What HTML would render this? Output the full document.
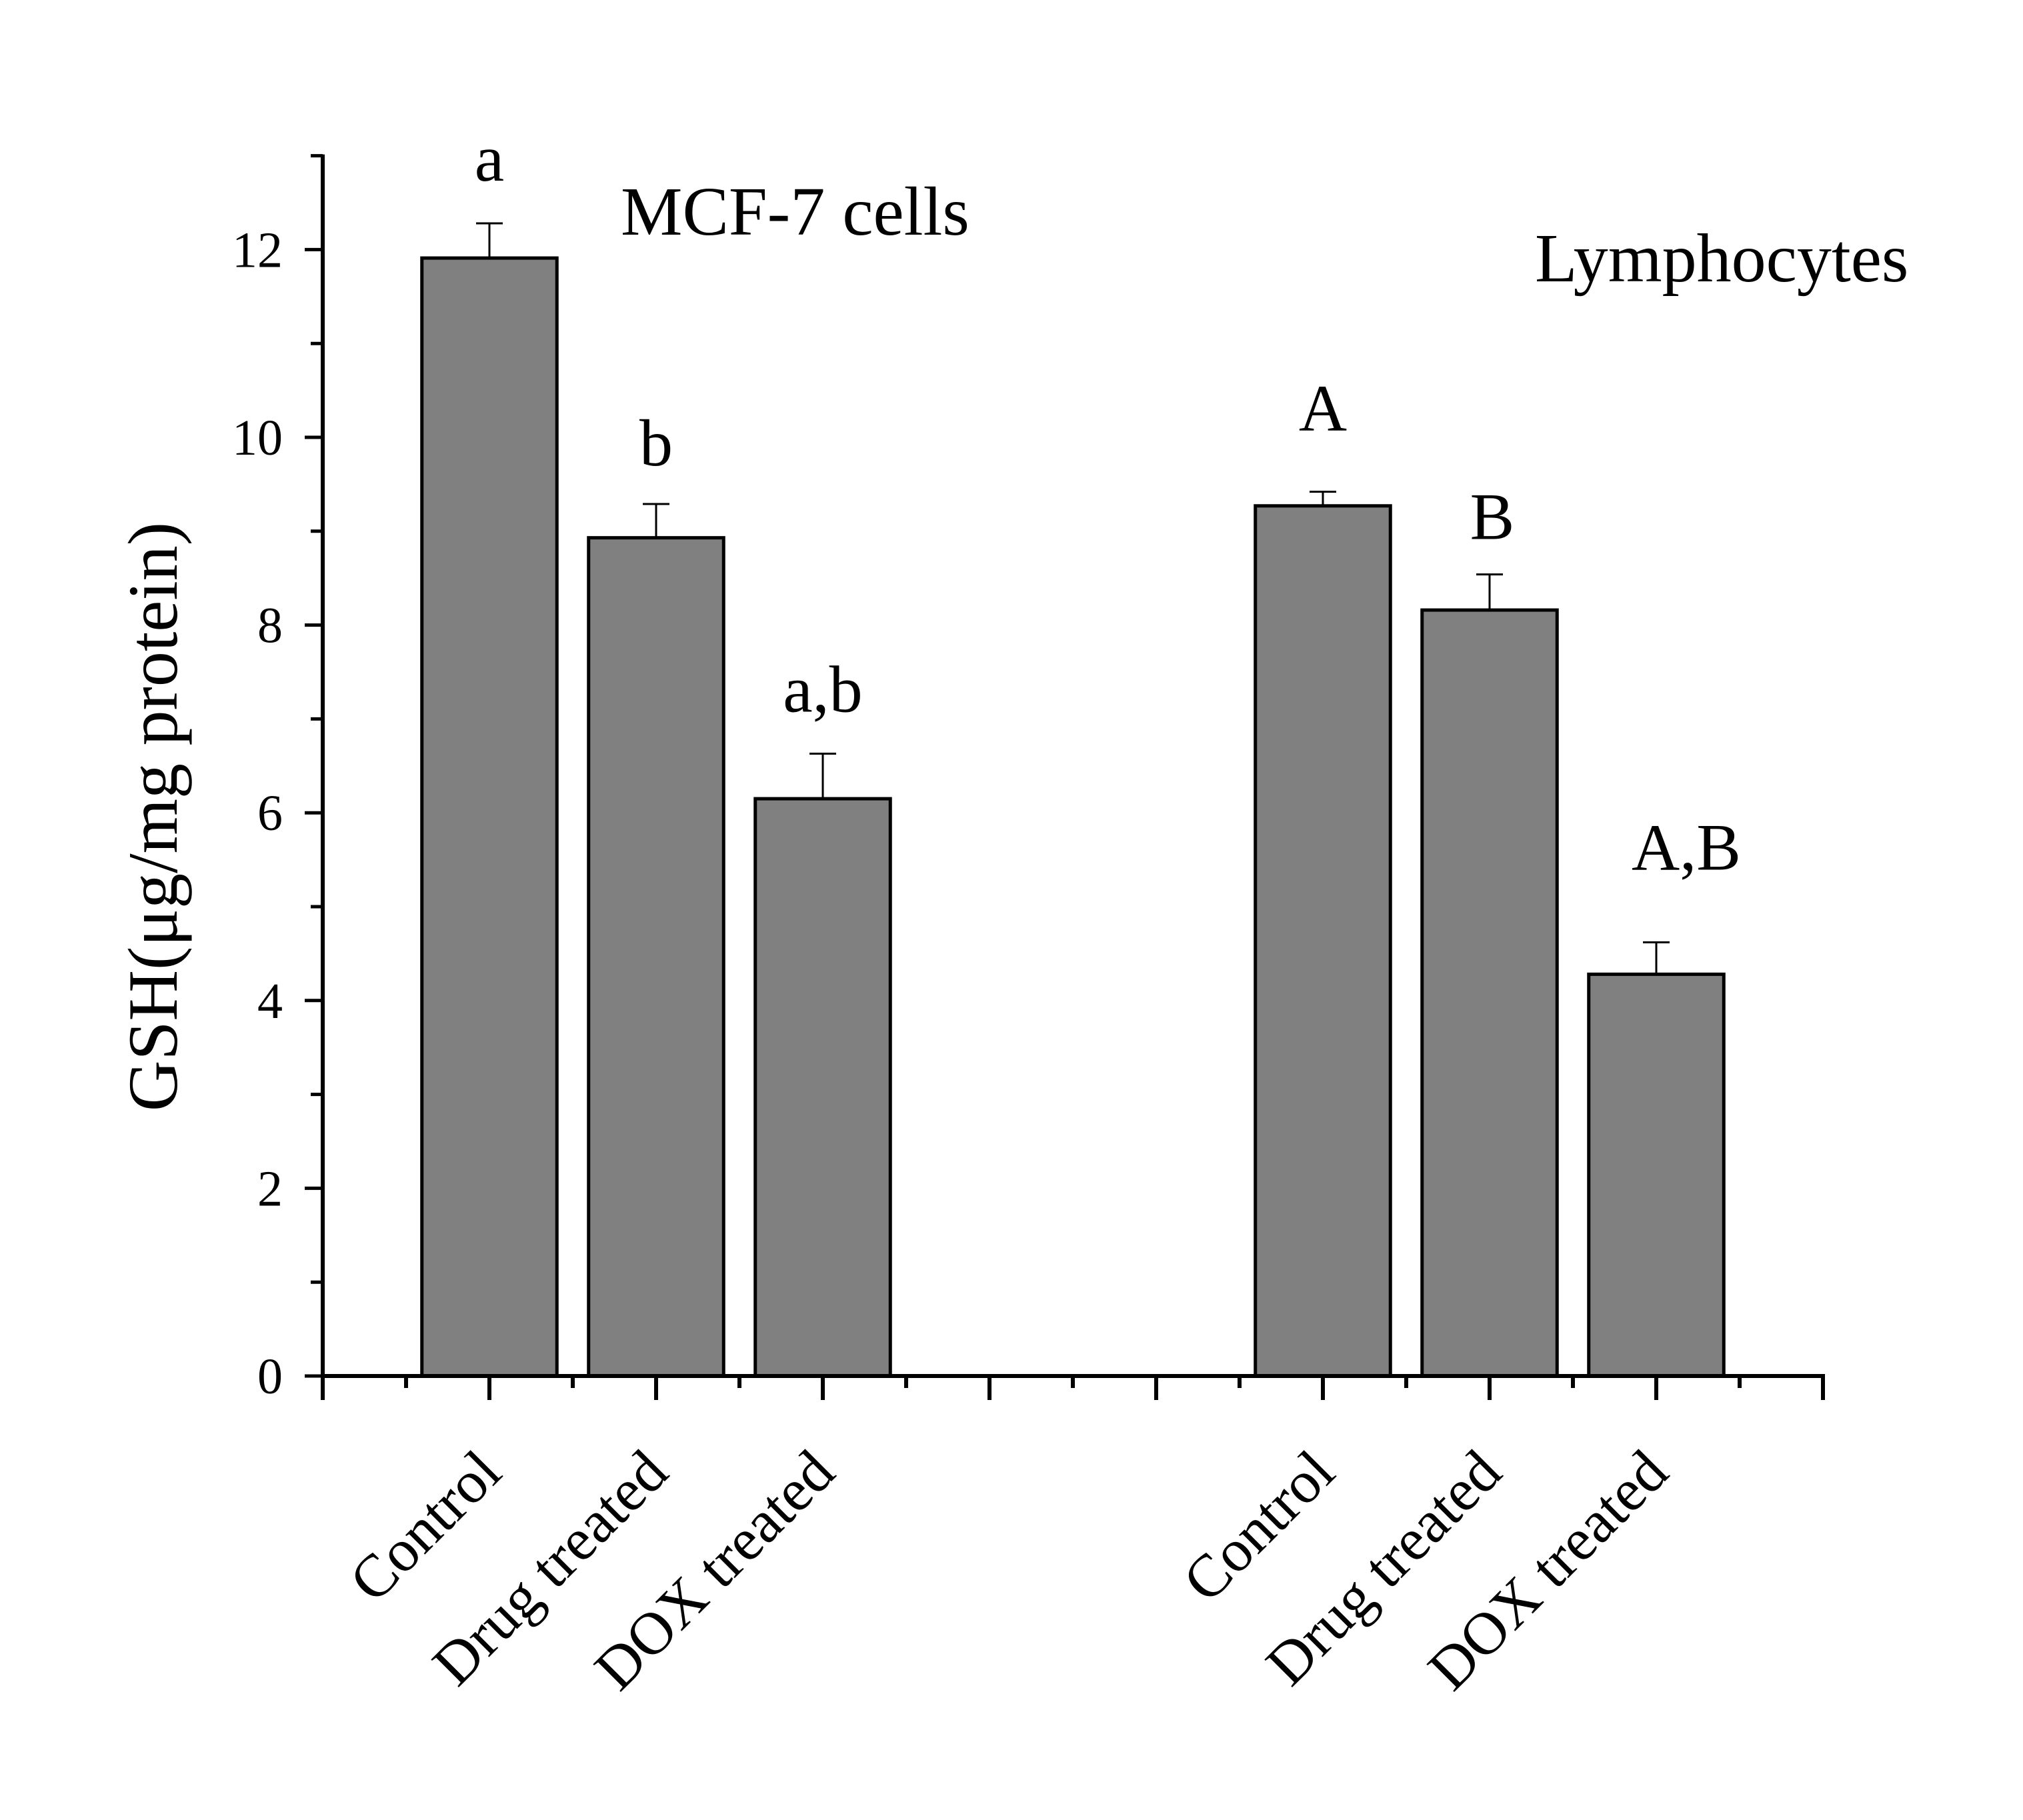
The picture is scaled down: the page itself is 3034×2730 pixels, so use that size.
<!DOCTYPE html>
<html><head><meta charset="utf-8"><style>
html,body{margin:0;padding:0;background:#fff;}
svg{display:block;font-family:"Liberation Serif",serif;}
</style></head><body>
<svg id="chart" width="3034" height="2730" viewBox="0 0 3034 2730" xmlns="http://www.w3.org/2000/svg">
<rect width="3034" height="2730" fill="#fff"/>
<g id="marks"></g>
<g id="axes"></g>
<text transform="translate(265,1225) rotate(-90)" text-anchor="middle" font-size="106">GSH(μg/mg protein)</text>
<text x="931" y="352" font-size="104">MCF-7 cells</text>
<text x="2302" y="422" font-size="104">Lymphocytes</text>
</svg>
<script>
const categories = ["Control","Drug treated","DOX treated","Control","Drug treated","DOX treated"];
const positions = [1,2,3,6,7,8];
const values = [11.91, 8.93, 6.15, 9.27, 8.16, 4.28];
const errors = [0.37, 0.36, 0.48, 0.15, 0.38, 0.34];
const sigLabels = ["a","b","a,b","A","B","A,B"];
const yTicks = [0,2,4,6,8,10,12];

const NS="http://www.w3.org/2000/svg";
const x0=484, xUnit=250, y0=2064, yUnit=140.8;
const labelGap=[64,58,63,92,53,109];
const labelDx=[0,0,0,0,4,45];
const xs = v => x0 + v*xUnit;
const ys = v => y0 - v*yUnit;
const marks=document.getElementById('marks');
const axes=document.getElementById('axes');
function mk(tag, attrs, parent){const e=document.createElementNS(NS,tag);for(const k in attrs)e.setAttribute(k,attrs[k]);parent.appendChild(e);return e;}

const bw=0.81*xUnit;
values.forEach((v,i)=>{
  const cx=xs(positions[i]);
  const r=mk('rect',{x:cx-bw/2,y:ys(v),width:bw,height:ys(0)-ys(v),fill:'#808080',stroke:'#000','stroke-width':5},marks);
  
  
  const eb=mk('path',{d:`M${cx},${ys(v)} V${ys(v+errors[i])} M${cx-20},${ys(v+errors[i])} H${cx+20}`,stroke:'#000','stroke-width':3,fill:'none'},marks);
  
  
  const t=mk('text',{x:cx+labelDx[i],y:ys(v+errors[i])-labelGap[i],'text-anchor':'middle','font-size':100},marks);
  t.textContent=sigLabels[i];
  
  
  const xl=mk('text',{transform:`translate(${cx+22},2213) rotate(-45)`,'text-anchor':'end','font-size':90},axes);
  xl.textContent=categories[i];
  
  
});

const ya=mk('line',{x1:x0,y1:ys(13)-2,x2:x0,y2:y0+3,stroke:'#000','stroke-width':6},axes);


const xa=mk('line',{x1:x0-3,y1:y0,x2:xs(9)+3,y2:y0,stroke:'#000','stroke-width':6},axes);


for(let v=0; v<=13; v++){
  const major=v%2===0;
  const tk=mk('line',{x1:x0-(major?27:18),y1:ys(v),x2:x0,y2:ys(v),stroke:'#000','stroke-width':5},axes);
  
  
}
yTicks.forEach(v=>{
  const t=mk('text',{x:424,y:ys(v)+26,'text-anchor':'end','font-size':76},axes);
  t.textContent=v;
  
  
});
for(let p=0;p<=9;p++){
  const tk=mk('line',{x1:xs(p),y1:y0,x2:xs(p),y2:y0+36,stroke:'#000','stroke-width':6},axes);
  
  
  if(p<9){
    const mt=mk('line',{x1:xs(p+0.5),y1:y0,x2:xs(p+0.5),y2:y0+18,stroke:'#000','stroke-width':6},axes);
    
    
  }
}
</script>
</body></html>
